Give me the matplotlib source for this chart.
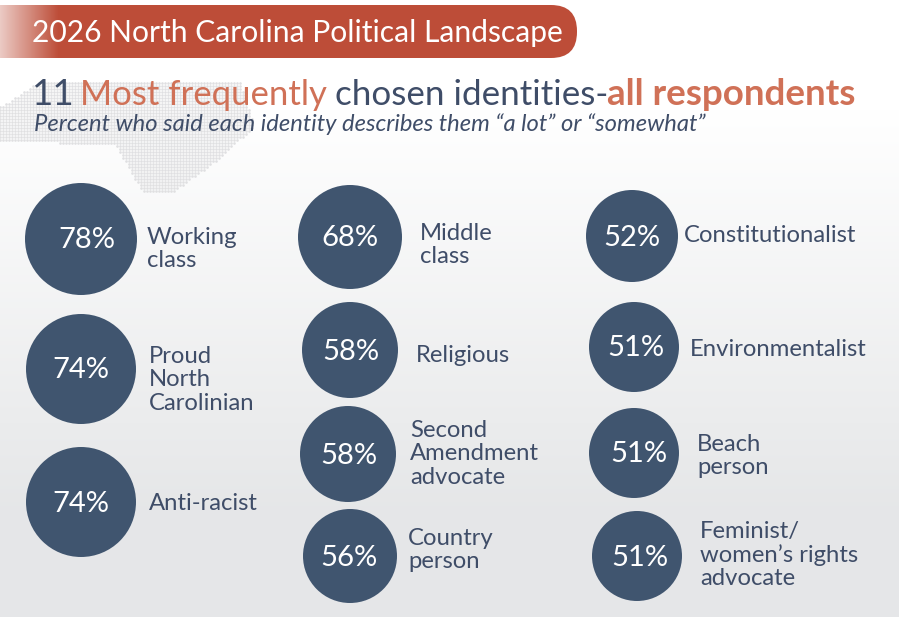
import numpy as np
import matplotlib
matplotlib.use("Agg")
import matplotlib.pyplot as plt
from matplotlib.patches import Circle, FancyBboxPatch
from matplotlib.path import Path

plt.rcParams["font.family"] = ["Lato", "DejaVu Sans"]

# values
labels_1 = ["Working\nclass", "Proud\nNorth\nCarolinian", "Anti-racist"]
values_1 = [78, 74, 74]
labels_2 = ["Middle\nclass", "Religious", "Second\nAmendment\nadvocate", "Country\nperson"]
values_2 = [68, 58, 58, 56]
labels_3 = ["Constitutionalist", "Environmentalist", "Beach\nperson", "Feminist/\nwomen\u2019s rights\nadvocate"]
values_3 = [52, 51, 51, 51]

# layout in pixels: centre x, centre y, radius, number x, label x, label y
layout_1 = [(81, 239, 56, 87, 147, 248), (81, 369, 55, 81, 149, 379), (81, 502, 55, 81, 149, 503)]
layout_2 = [(350, 237, 52, 350, 420, 244), (350, 350, 48, 351, 416, 354),
            (348, 454, 48, 349, 410, 453), (350, 556, 47, 349, 408, 549)]
layout_3 = [(632, 236, 46, 632, 684, 234), (634, 347, 45, 636, 690, 348),
            (634, 453, 45, 639, 697, 455), (637, 556, 45, 640, 700, 554)]

NAVY = "#40556f"
TEXT = "#3f4d68"
RED = "#bd4d38"
ORANGE = "#d07157"

fig = plt.figure(figsize=(8.99, 6.17), dpi=100)
ax = fig.add_axes([0, 0, 1, 1])
ax.set_xlim(0, 899)
ax.set_ylim(617, 0)
ax.axis("off")

# background fade
grad = np.clip((np.linspace(0, 617, 300) - 110) / 400, 0, 1)
bg = np.ones((300, 1, 3)) * (1 - grad[:, None, None] * np.array([0.10, 0.095, 0.09]))
ax.imshow(bg, extent=(0, 899, 617, 0), aspect="auto", zorder=0)

# dotted state shape behind the title
outline = Path([(0, 107), (42, 80), (239, 80), (255, 126), (218, 160), (172, 193),
                (142, 191), (115, 145), (0, 141), (0, 107)])
gx, gy = np.meshgrid(np.arange(0, 258, 3.0), np.arange(80, 195, 3.0))
pts = np.column_stack([gx.ravel(), gy.ravel()])
pts = pts[outline.contains_points(pts)]
ax.scatter(pts[:, 0], pts[:, 1], s=3.5, color="#dfdfe1", linewidths=0, zorder=1)

# header pill, fading out on the left
pill = FancyBboxPatch((-60, 5), 637, 53, boxstyle="round,pad=0,rounding_size=26",
                      facecolor="none", edgecolor="none", transform=ax.transData)
ax.add_patch(pill)
fade = np.ones((1, 600, 4))
fade[..., :3] = matplotlib.colors.to_rgb(RED)
fade[..., 3] = np.clip(0.3 + np.linspace(0, 600, 600) / 58 * 0.7, 0, 1)
im = ax.imshow(fade, extent=(0, 600, 58, 5), aspect="auto", zorder=2)
im.set_clip_path(pill)
ax.set_xlim(0, 899)
ax.set_ylim(617, 0)

ax.text(32, 33, "2026 North Carolina Political Landscape", color="white",
        fontsize=21.6, va="center", zorder=3)

# title in pieces
ax.text(32, 105, "11", color=TEXT, fontsize=26.5, zorder=3)
ax.text(80, 105, "Most frequently", color=ORANGE, fontsize=25, zorder=3)
ax.text(335, 105, "chosen identities-", color=TEXT, fontsize=25.2, zorder=3)
ax.text(607, 105, "all respondents", color=ORANGE, fontsize=26.5, fontweight="bold", zorder=3)
ax.text(34, 131, "Percent who said each identity describes them \u201ca lot\u201d or \u201csomewhat\u201d",
        color=TEXT, fontsize=17.1, style="italic", zorder=3)

for labels, values, layout in [(labels_1, values_1, layout_1),
                               (labels_2, values_2, layout_2),
                               (labels_3, values_3, layout_3)]:
    for lab, val, (cx, cy, r, nx, lx, ly) in zip(labels, values, layout):
        ax.add_patch(Circle((cx, cy), r, facecolor=NAVY, edgecolor="none", zorder=3))
        ax.text(nx, cy + 1.5, f"{val}%", color="white", fontsize=21, ha="center",
                va="center", zorder=4)
        ax.text(lx, ly + 1, lab, color=TEXT, fontsize=17.2, va="center", linespacing=1.14, zorder=4)

plt.savefig("out.png", dpi=100)
